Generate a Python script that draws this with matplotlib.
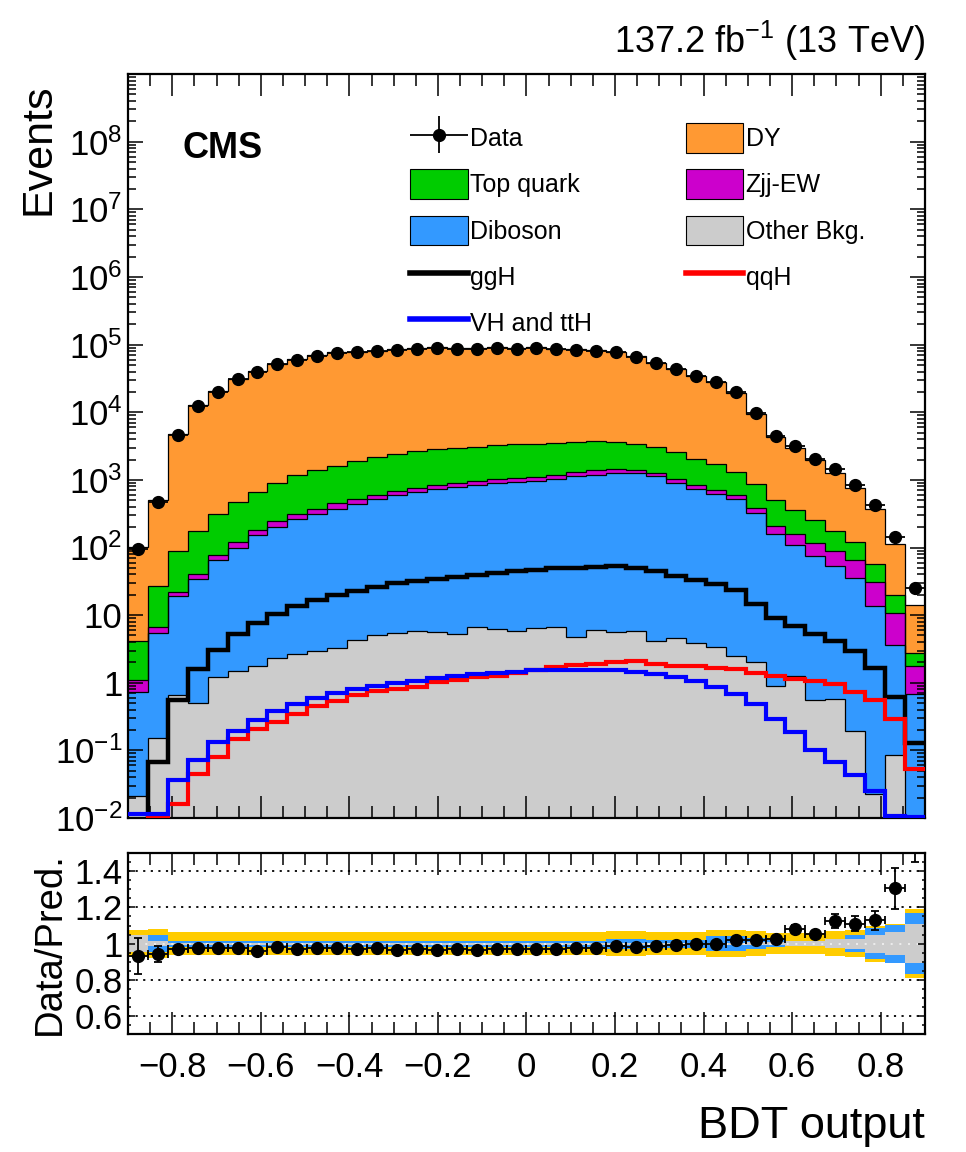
import numpy as np
import matplotlib
matplotlib.use('Agg')
import matplotlib.pyplot as plt
from matplotlib.patches import Patch
from matplotlib.lines import Line2D
from matplotlib.legend_handler import HandlerErrorbar
from matplotlib.ticker import MultipleLocator, FixedLocator, LogLocator, NullFormatter, FuncFormatter, FixedFormatter

plt.rcParams['font.family'] = ['Liberation Sans', 'DejaVu Sans']
plt.rcParams['mathtext.fontset'] = 'custom'
plt.rcParams['mathtext.rm'] = 'Liberation Sans'
plt.rcParams['mathtext.it'] = 'Liberation Sans:italic'
plt.rcParams['mathtext.bf'] = 'Liberation Sans:bold'

# binning: 40 bins in BDT output from -0.9 to 0.9
x_min, x_max, n_bins = -0.9, 0.9, 40

# observed events per bin
data = [96, 470, 4560, 12300, 20000, 30500, 39000, 51500, 59600, 68000,
        74800, 76600, 79500, 83000, 87000, 88000, 85000, 87000, 89000, 87500,
        89000, 85000, 83000, 80300, 77600, 66000, 53700, 43500, 34600, 28000,
        19600, 9660, 4470, 3160, 2050, 1430, 830, 425, 145, 25]

# background components (stack order bottom -> top)
other = [0.021, 0.152, 0.66, 0.51, 1.21, 1.47, 1.79, 2.32, 2.69, 3.0,
         3.27, 4.24, 5.1, 5.45, 5.75, 5.56, 5.3, 6.7, 6.2, 5.75,
         6.4, 6.6, 4.7, 6.1, 5.6, 5.75, 4.1, 4.6, 3.87, 3.33,
         2.51, 2.0, 0.90, 1.27, 0.55, 0.575, 0.196, 0.0227, 0.086, 0.0]
diboson = [0.72, 5.25, 18.3, 33.9, 65.2, 97.5, 149, 200, 257, 305,
           371, 429, 509, 591, 656, 717, 777, 831, 902, 914,
           954, 1033, 1135, 1194, 1269, 1244, 1136, 903, 719, 607,
           511, 323, 155, 106, 73.5, 52, 35.8, 13.8, 3.56, 0.68]
zjj_ew = [0.34, 1.3, 3.3, 6.6, 12.3, 21, 29, 43, 48, 58,
          75, 81, 82, 96, 104, 126, 126, 129, 132, 150,
          150, 160, 160, 200, 190, 150, 135, 132, 115, 96,
          76, 62, 51, 49, 41, 35.5, 29, 17.2, 7.15, 1.08]
top_quark = [3.0, 20.3, 65.7, 132, 237, 350, 480, 665, 872, 1014,
             1181, 1386, 1554, 1688, 1884, 1981, 2092, 2133, 2280, 2330,
             2330, 2330, 2300, 2300, 2135, 1960, 1785, 1540, 1222, 994,
             730, 488, 303, 199, 138, 90, 55, 26, 9.2, 1.04]
dy = [99, 471, 4612, 12457, 20184, 30730, 40090, 51640, 60120, 68420,
      74970, 77150, 79450, 83420, 87150, 88170, 84700, 87200, 88430, 86800,
      88310, 83920, 81300, 78400, 75000, 63790, 51240, 41320, 32680, 26410,
      17910, 8575, 3850, 2565, 1697, 1092, 627, 320, 91, 11.5]

# signal templates
ggh = [0.009, 0.068, 0.56, 1.6, 3.08, 5.3, 7.65, 10.3, 13.5, 17,
       20, 23, 25.8, 29.5, 31.5, 34, 36.5, 39, 42, 44.5,
       47, 49, 50.5, 51.8, 52.7, 49.7, 44.5, 38, 33.2, 28.5,
       23.5, 14.5, 9, 7.0, 5.3, 4.1, 2.9, 1.65, 0.62, 0.13]
qqh = [0.009, 0.0101, 0.016, 0.045, 0.079, 0.147, 0.206, 0.267, 0.347, 0.447,
       0.53, 0.65, 0.76, 0.82, 0.88, 1.01, 1.11, 1.2, 1.27, 1.39,
       1.52, 1.71, 1.83, 1.91, 2.0, 2.07, 1.89, 1.79, 1.79, 1.65,
       1.6, 1.39, 1.27, 1.13, 1.05, 0.97, 0.74, 0.55, 0.29, 0.054]
vh_tth = [0.0115, 0.0115, 0.0366, 0.073, 0.132, 0.195, 0.283, 0.38, 0.48, 0.59,
          0.70, 0.80, 0.89, 0.98, 1.05, 1.17, 1.27, 1.35, 1.39, 1.46,
          1.52, 1.52, 1.56, 1.56, 1.52, 1.44, 1.35, 1.22, 1.05, 0.88,
          0.68, 0.48, 0.29, 0.184, 0.10, 0.067, 0.043, 0.025, 0.0106, 0.0104]

# ratio panel
ratio = [0.93, 0.943, 0.97, 0.974, 0.976, 0.978, 0.957, 0.98, 0.972, 0.974,
         0.976, 0.969, 0.974, 0.967, 0.969, 0.967, 0.969, 0.963, 0.97, 0.97,
         0.97, 0.972, 0.978, 0.978, 0.987, 0.983, 0.989, 0.991, 0.996, 0.996,
         1.019, 1.022, 1.026, 1.081, 1.052, 1.126, 1.111, 1.128, 1.307, 1.75]
ratio_err = [0.1, 0.045, 0.01, 0.01, 0.01, 0.01, 0.01, 0.01, 0.01, 0.01,
             0.01, 0.01, 0.01, 0.01, 0.01, 0.01, 0.01, 0.01, 0.01, 0.01,
             0.01, 0.01, 0.01, 0.01, 0.01, 0.01, 0.01, 0.01, 0.01, 0.01,
             0.012, 0.015, 0.018, 0.02, 0.02, 0.037, 0.04, 0.055, 0.113, 0.3]
unc_total = [0.075, 0.08, 0.065, 0.065, 0.065, 0.065, 0.065, 0.065, 0.065, 0.065,
             0.065, 0.065, 0.065, 0.065, 0.065, 0.065, 0.065, 0.065, 0.065, 0.065,
             0.065, 0.065, 0.065, 0.065, 0.07, 0.07, 0.065, 0.065, 0.065, 0.075,
             0.075, 0.07, 0.06, 0.06, 0.06, 0.07, 0.075, 0.1, 0.11, 0.19]
unc_syst = [0.045, 0.045, 0.017, 0.017, 0.017, 0.017, 0.017, 0.017, 0.017, 0.017,
            0.017, 0.017, 0.017, 0.017, 0.017, 0.017, 0.017, 0.017, 0.017, 0.017,
            0.017, 0.017, 0.017, 0.017, 0.028, 0.028, 0.022, 0.022, 0.022, 0.04,
            0.04, 0.03, 0.02, 0.012, 0.012, 0.025, 0.045, 0.085, 0.105, 0.17]
unc_stat = [0.045, 0.015, 0.005, 0.005, 0.005, 0.005, 0.005, 0.005, 0.005, 0.005,
            0.005, 0.005, 0.005, 0.005, 0.005, 0.005, 0.005, 0.005, 0.005, 0.005,
            0.005, 0.005, 0.005, 0.005, 0.005, 0.005, 0.005, 0.005, 0.005, 0.005,
            0.005, 0.008, 0.01, 0.013, 0.013, 0.023, 0.028, 0.05, 0.065, 0.11]

x_ticks = [-0.8, -0.6, -0.4, -0.2, 0.0, 0.2, 0.4, 0.6, 0.8]
x_tick_labels = ['\u22120.8', '\u22120.6', '\u22120.4', '\u22120.2', '0', '0.2', '0.4', '0.6', '0.8']
r_ticks = [0.6, 0.8, 1.0, 1.2, 1.4]
r_tick_labels = ['0.6', '0.8', '1', '1.2', '1.4']

c_dy = '#ff9933'
c_top = '#00cc00'
c_zjj = '#cc00cc'
c_vv = '#3399ff'
c_oth = '#cccccc'
c_yellow = '#ffcc00'

edges = np.linspace(x_min, x_max, n_bins + 1)
centers = 0.5 * (edges[:-1] + edges[1:])
half = 0.5 * (edges[1] - edges[0])

fig = plt.figure(figsize=(9.66, 11.52), dpi=100)
ax = fig.add_axes([0.1325, 0.2899, 0.825, 0.6458])
axr = fig.add_axes([0.1325, 0.1024, 0.825, 0.157])

# ---- main panel: stacked backgrounds
floor = 1e-4
stack = [other, diboson, zjj_ew, top_quark, dy]
stack_cols = [c_oth, c_vv, c_zjj, c_top, c_dy]
cum = np.zeros(n_bins)
lows, highs = [], []
for vals in stack:
    lo = np.maximum(cum, floor)
    cum = cum + np.asarray(vals, dtype=float)
    hi = np.maximum(cum, floor)
    lows.append(lo)
    highs.append(hi)
for lo, hi, col in zip(lows, highs, stack_cols):
    ax.stairs(hi, edges, baseline=lo, fill=True, color=col, lw=0, zorder=1)
for hi in highs:
    ax.stairs(hi, edges, baseline=None, color='black', lw=0.9, zorder=2)

ax.stairs(ggh, edges, baseline=None, color='black', lw=3.2, zorder=3)
ax.stairs(qqh, edges, baseline=None, color='#ff0000', lw=3.0, zorder=3)
ax.stairs(vh_tth, edges, baseline=None, color='#0000ff', lw=3.0, zorder=3)

data_arr = np.asarray(data, dtype=float)
eb = ax.errorbar(centers, data_arr, xerr=half, yerr=np.sqrt(data_arr), fmt='o',
                 color='black', ms=8.5, elinewidth=1.3, capsize=0, zorder=5)

ax.set_yscale('log')
ax.set_xlim(x_min, x_max)
ax.set_ylim(1e-2, 1e9)
ax.yaxis.set_major_locator(FixedLocator([10.0 ** e for e in range(-2, 9)]))
ax.yaxis.set_minor_locator(LogLocator(base=10, subs=np.arange(2, 10), numticks=30))
ax.yaxis.set_minor_formatter(NullFormatter())


def log_fmt(v, pos):
    e = int(round(np.log10(v)))
    if e == 0:
        return '1'
    if e == 1:
        return '10'
    return r'$\mathregular{10^{%d}}$' % e


ax.yaxis.set_major_formatter(FuncFormatter(log_fmt))
ax.xaxis.set_major_locator(FixedLocator(x_ticks))
ax.xaxis.set_minor_locator(MultipleLocator(0.05))
ax.tick_params(axis='x', which='both', labelbottom=False)
ax.tick_params(which='both', direction='in', top=True, right=True, width=1.1)
ax.tick_params(axis='x', which='major', length=16)
ax.tick_params(axis='x', which='minor', length=8.5)
ax.tick_params(axis='y', which='major', length=11, labelsize=25, pad=4)
ax.tick_params(axis='y', which='minor', length=5.5)
for s in ax.spines.values():
    s.set_linewidth(1.6)

ax.set_ylabel('Events', loc='top', fontsize=31)
ax.yaxis.set_label_coords(-0.087, 0.988)

ax.text(0.068, 0.887, 'CMS', transform=ax.transAxes, fontsize=26,
        fontweight='bold', va='baseline', ha='left')
fig.text(0.9576, 0.954, r'137.2 fb$^{\mathregular{-1}}$ (13 TeV)', ha='right',
         va='baseline', fontsize=26)

# legend
h_top = Patch(facecolor=c_top, edgecolor='black', lw=0.8)
h_vv = Patch(facecolor=c_vv, edgecolor='black', lw=0.8)
h_dy = Patch(facecolor=c_dy, edgecolor='black', lw=0.8)
h_zjj = Patch(facecolor=c_zjj, edgecolor='black', lw=0.8)
h_oth = Patch(facecolor=c_oth, edgecolor='black', lw=0.8)
h_ggh = Line2D([], [], color='black', lw=4)
h_qqh = Line2D([], [], color='#ff0000', lw=4)
h_vh = Line2D([], [], color='#0000ff', lw=4)
handles = [eb, h_top, h_vv, h_ggh, h_vh, h_dy, h_zjj, h_oth, h_qqh]
labels = ['Data', 'Top quark', 'Diboson', 'ggH', 'VH and ttH',
          'DY', 'Zjj-EW', 'Other Bkg.', 'qqH']
ax.legend(handles, labels, ncol=2, loc='upper left', bbox_to_anchor=(0.354, 0.934),
          frameon=False, fontsize=18, handlelength=2.3, handleheight=1.45,
          labelspacing=0.66, columnspacing=3.74, handletextpad=0.1,
          borderpad=0, borderaxespad=0,
          handler_map={eb: HandlerErrorbar(xerr_size=1.15, yerr_size=0.75)})

# ---- ratio panel
tot = np.asarray(unc_total)
sy = np.asarray(unc_syst)
st = np.asarray(unc_stat)
axr.stairs(1 + tot, edges, baseline=1 - tot, fill=True, color=c_yellow, lw=0, zorder=1)
axr.stairs(1 + sy, edges, baseline=1 - sy, fill=True, color=c_vv, lw=0, zorder=1)
axr.stairs(1 + st, edges, baseline=1 - st, fill=True, color=c_oth, lw=0, zorder=1)
for g in [0.6, 0.8, 1.2, 1.4]:
    axr.axhline(g, color='black', ls=(0, (1.2, 3)), lw=1.3, zorder=0.5)
axr.axhline(1.0, color='#f2f2f2', ls=(0, (1.2, 4)), lw=1.2, zorder=1.5)
axr.errorbar(centers, ratio, xerr=half, yerr=ratio_err, fmt='o', color='black',
             ms=8.5, elinewidth=1.3, capsize=3, capthick=1.3, zorder=5)

axr.set_xlim(x_min, x_max)
axr.set_ylim(0.5, 1.5)
axr.xaxis.set_major_locator(FixedLocator(x_ticks))
axr.xaxis.set_major_formatter(FixedFormatter(x_tick_labels))
axr.xaxis.set_minor_locator(MultipleLocator(0.05))
axr.yaxis.set_major_locator(FixedLocator(r_ticks))
axr.yaxis.set_major_formatter(FixedFormatter(r_tick_labels))
axr.yaxis.set_minor_locator(MultipleLocator(0.05))
axr.tick_params(which='both', direction='in', top=True, right=True, width=1.1)
axr.tick_params(axis='x', which='major', length=16, labelsize=25, pad=12)
axr.tick_params(axis='x', which='minor', length=8.5)
axr.tick_params(axis='y', which='major', length=5, labelsize=25, pad=4)
axr.tick_params(axis='y', which='minor', length=2.5)
for s in axr.spines.values():
    s.set_linewidth(1.6)

axr.set_ylabel('Data/Pred.', fontsize=27.5)
axr.yaxis.set_label_coords(-0.075, 0.5)
axr.set_xlabel('BDT output', loc='right', fontsize=32.5)
axr.xaxis.set_label_coords(1.0, -0.40)

fig.savefig('out.png', dpi=100)
